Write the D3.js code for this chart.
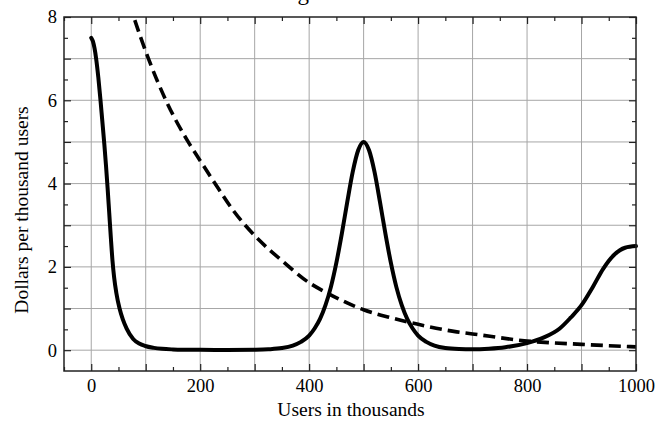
<!DOCTYPE html>
<html>
<head>
<meta charset="utf-8">
<script src="https://cdn.jsdelivr.net/npm/d3@7"></script>
<style>
  body { margin: 0; background: #fff; }
  svg { display: block; }
  svg text { font-family: 'Liberation Serif', 'Times New Roman', serif; fill: #000; }
</style>
</head>
<body>
<div id="chart-area"></div>
<script>
// values
const solidX = [0, 3, 6, 9, 13, 17, 20, 24, 27, 30, 33, 36, 39, 42, 46, 52, 58, 65, 77, 88, 99, 115, 130, 150, 175,
  200, 250, 300, 325, 350, 370, 385, 400, 410, 420, 430, 440, 450, 460, 470, 480, 490, 500, 510, 520, 530, 540, 550,
  560, 570, 580, 590, 600, 615, 630, 650, 675, 700, 730, 760, 800, 830, 860, 880, 900, 920, 940, 960, 980, 1000];
const solidY = [7.5, 7.42, 7.25, 7.0, 6.55, 6.0, 5.55, 4.95, 4.45, 3.9, 3.3, 2.7, 2.15, 1.75, 1.38, 1.0, 0.74, 0.52,
  0.27, 0.16, 0.1, 0.055, 0.032, 0.018, 0.011, 0.008, 0.006, 0.012, 0.022, 0.05, 0.11, 0.2, 0.35, 0.52, 0.75, 1.08,
  1.52, 2.1, 2.8, 3.56, 4.28, 4.8, 5.0, 4.8, 4.28, 3.56, 2.8, 2.1, 1.52, 1.08, 0.75, 0.52, 0.35, 0.2, 0.11, 0.05,
  0.026, 0.02, 0.035, 0.07, 0.17, 0.3, 0.52, 0.78, 1.08, 1.5, 1.96, 2.29, 2.46, 2.5];

const dashedX = [60, 78, 105, 137, 178, 200, 230, 261, 310, 350, 400, 435, 500, 550, 600, 671, 700, 800, 900, 1000];
const dashedY = [8.75, 8.0, 7.0, 6.0, 5.0, 4.55, 3.95, 3.35, 2.62, 2.15, 1.62, 1.36, 0.97, 0.78, 0.62, 0.44, 0.39, 0.22,
  0.14, 0.08];

const xTickValues = [0, 100, 200, 300, 400, 500, 600, 700, 800, 900, 1000];
const xTickLabels = ['0', '', '200', '', '400', '', '600', '', '800', '', '1000'];
const yTickValues = [0, 1, 2, 3, 4, 5, 6, 7, 8];
const yTickLabels = ['0', '', '2', '', '4', '', '6', '', '8'];
const xMinor = [-50, 50, 150, 250, 350, 450, 550, 650, 750, 850, 950];
const yMinor = [0.5, 1.5, 2.5, 3.5, 4.5, 5.5, 6.5, 7.5];

const titleText = 'Cost curves for the service as it grows in users';
const xLabel = 'Users in thousands';
const yLabel = 'Dollars per thousand users';

let width = 657;
let height = 431;
let plotLeft = 64, plotRight = 636, plotTop = 17, plotBottom = 371;

let svg = d3
  .select('#chart-area')
  .append('svg')
  .attr('width', width)
  .attr('height', height);

let x = d3.scaleLinear().domain([-50, 1000]).range([plotLeft, plotRight]);
let y = d3.scaleLinear().domain([-0.5, 8]).range([plotBottom, plotTop]);

//title sits above the window, only its lower edge shows (as in the reference)
svg.append('text')
  .attr('x', 3)
  .attr('y', 0)
  .style('font-size', '23px')
  .text(titleText);

svg.append('defs').append('clipPath').attr('id', 'plot-clip')
  .append('rect')
  .attr('x', plotLeft).attr('y', plotTop)
  .attr('width', plotRight - plotLeft).attr('height', plotBottom - plotTop);

//grid
let grid = svg.append('g').attr('stroke', '#a6a6a6').attr('stroke-width', 1);
grid.selectAll('.vgrid')
  .data(xTickValues.filter((d) => d < 1000))
  .enter()
  .append('line')
  .attr('x1', (d) => x(d)).attr('x2', (d) => x(d))
  .attr('y1', plotTop).attr('y2', plotBottom);
grid.selectAll('.hgrid')
  .data(yTickValues.filter((d) => d < 8))
  .enter()
  .append('line')
  .attr('x1', plotLeft).attr('x2', plotRight)
  .attr('y1', (d) => y(d)).attr('y2', (d) => y(d));

//axes with ticks pointing inward, on all four sides
function styleAxis(g) {
  g.select('.domain').remove();
  g.selectAll('.tick line').attr('stroke', '#222').attr('stroke-width', 1.2);
  g.selectAll('.tick text').style('font-size', '18.5px');
}

svg.append('g')
  .attr('transform', `translate(0,${plotBottom})`)
  .call(d3.axisBottom(x).tickValues(xTickValues).tickSize(-7).tickPadding(8)
    .tickFormat((d, i) => xTickLabels[i]))
  .call(styleAxis);
svg.append('g')
  .attr('transform', `translate(0,${plotBottom})`)
  .call(d3.axisBottom(x).tickValues(xMinor).tickSize(-4).tickFormat(''))
  .call(styleAxis);
svg.append('g')
  .attr('transform', `translate(0,${plotTop})`)
  .call(d3.axisTop(x).tickValues(xTickValues).tickSize(-7).tickFormat(''))
  .call(styleAxis);
svg.append('g')
  .attr('transform', `translate(0,${plotTop})`)
  .call(d3.axisTop(x).tickValues(xMinor).tickSize(-4).tickFormat(''))
  .call(styleAxis);

svg.append('g')
  .attr('transform', `translate(${plotLeft},0)`)
  .call(d3.axisLeft(y).tickValues(yTickValues).tickSize(-7).tickPadding(7)
    .tickFormat((d, i) => yTickLabels[i]))
  .call(styleAxis);
svg.append('g')
  .attr('transform', `translate(${plotLeft},0)`)
  .call(d3.axisLeft(y).tickValues(yMinor).tickSize(-4).tickFormat(''))
  .call(styleAxis);
svg.append('g')
  .attr('transform', `translate(${plotRight},0)`)
  .call(d3.axisRight(y).tickValues(yTickValues).tickSize(-7).tickFormat(''))
  .call(styleAxis);
svg.append('g')
  .attr('transform', `translate(${plotRight},0)`)
  .call(d3.axisRight(y).tickValues(yMinor).tickSize(-4).tickFormat(''))
  .call(styleAxis);

//curves
let line = d3.line()
  .x((d) => x(d[0]))
  .y((d) => y(d[1]))
  .curve(d3.curveMonotoneX);

let plot = svg.append('g').attr('clip-path', 'url(#plot-clip)');

plot.append('path')
  .datum(dashedX.map((d, i) => [d, dashedY[i]]))
  .attr('d', line)
  .attr('fill', 'none')
  .attr('stroke', '#000')
  .attr('stroke-width', 3.6)
  .attr('stroke-dasharray', '12,6');

svg.append('path')
  .datum(solidX.map((d, i) => [d, solidY[i]]))
  .attr('d', line)
  .attr('fill', 'none')
  .attr('stroke', '#000')
  .attr('stroke-width', 4)
  .attr('stroke-linecap', 'round')
  .attr('stroke-linejoin', 'round');

//frame
svg.append('rect')
  .attr('x', plotLeft).attr('y', plotTop)
  .attr('width', plotRight - plotLeft).attr('height', plotBottom - plotTop)
  .attr('fill', 'none')
  .attr('stroke', '#222')
  .attr('stroke-width', 1.5);

//axis titles
svg.append('text')
  .attr('x', 351)
  .attr('y', 416)
  .attr('text-anchor', 'middle')
  .style('font-size', '19.5px')
  .text(xLabel);

svg.append('text')
  .attr('transform', 'translate(28,210) rotate(-90)')
  .attr('text-anchor', 'middle')
  .style('font-size', '19.5px')
  .text(yLabel);
</script>
</body>
</html>
